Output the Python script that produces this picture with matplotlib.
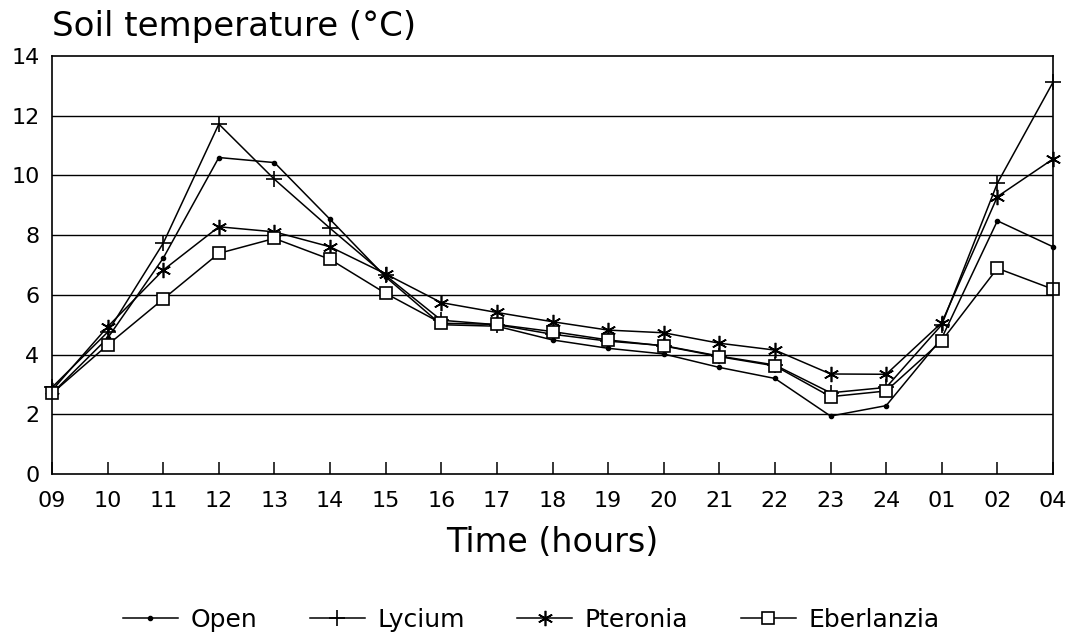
import matplotlib
matplotlib.use("Agg")
import matplotlib.pyplot as plt
from matplotlib.lines import Line2D

plt.rcParams['font.family'] = ['DejaVu Sans']

hours = ["09", "10", "11", "12", "13", "14", "15", "16", "17", "18",
         "19", "20", "21", "22", "23", "24", "01", "02", "04"]

open_site = [2.7, 4.55, 7.23, 10.6, 10.43, 8.53, 6.6, 5.0, 4.95, 4.49,
             4.21, 4.02, 3.57, 3.2, 1.94, 2.29, 4.55, 8.48, 7.61]
lycium = [2.9, 4.75, 7.73, 11.72, 9.87, 8.23, 6.65, 5.15, 5.0, 4.68,
          4.45, 4.3, 3.95, 3.65, 2.72, 2.9, 5.0, 9.74, 13.12]
pteronia = [2.8, 4.93, 6.83, 8.28, 8.11, 7.61, 6.7, 5.74, 5.41, 5.1,
            4.82, 4.73, 4.38, 4.15, 3.35, 3.34, 5.07, 9.29, 10.55]
eberlanzia = [2.7, 4.32, 5.86, 7.39, 7.89, 7.19, 6.05, 5.05, 5.01, 4.77,
              4.49, 4.29, 3.93, 3.62, 2.59, 2.78, 4.46, 6.89, 6.19]

series = [
    ("Open", open_site, dict(marker='o', markersize=3, markerfacecolor='black')),
    ("Lycium", lycium, dict(marker='+', markersize=12, markeredgewidth=1.2)),
    ("Pteronia", pteronia, dict(marker=(6, 2, 0), markersize=11, markeredgewidth=1.2)),
    ("Eberlanzia", eberlanzia, dict(marker='s', markersize=8.5, markerfacecolor='white',
                                     markeredgewidth=1.2)),
]

fig = plt.figure(figsize=(10.74, 6.42), dpi=100)
ax = fig.add_axes([52 / 1074, 1 - 474 / 642, (1053 - 52) / 1074, (474 - 56) / 642])

x = list(range(len(hours)))
for name, vals, style in series:
    ax.plot(x, vals, color='black', linewidth=1.1, label=name, clip_on=False, **style)

ax.set_xlim(0, len(hours) - 1)
ax.set_ylim(0, 14)
ax.set_yticks(range(0, 15, 2))
ax.set_xticks(x)
ax.set_xticklabels(hours)
for yv in range(2, 14, 2):
    ax.axhline(yv, color='black', linewidth=1.0, zorder=0)

ax.tick_params(axis='x', direction='in', length=9, width=1.1, pad=12, labelsize=16)
ax.tick_params(axis='y', length=0, pad=9, labelsize=16)
for s in ax.spines.values():
    s.set_linewidth(1.2)

ax.set_xlabel("Time (hours)", fontsize=24, labelpad=11)
fig.text(52 / 1074, 1 - 36 / 642, "Soil temperature (°C)", fontsize=24.5,
         ha='left', va='baseline')

handles = [Line2D([0], [0], color='black', linewidth=1.1, **st) for _, _, st in series]
fig.legend(handles, [n for n, _, _ in series], loc='center', ncol=4,
           bbox_to_anchor=(531 / 1074, 1 - 620 / 642), frameon=False, fontsize=18,
           handlelength=2.2, handletextpad=0.5, columnspacing=2.1)

fig.savefig("out.png", dpi=100)
